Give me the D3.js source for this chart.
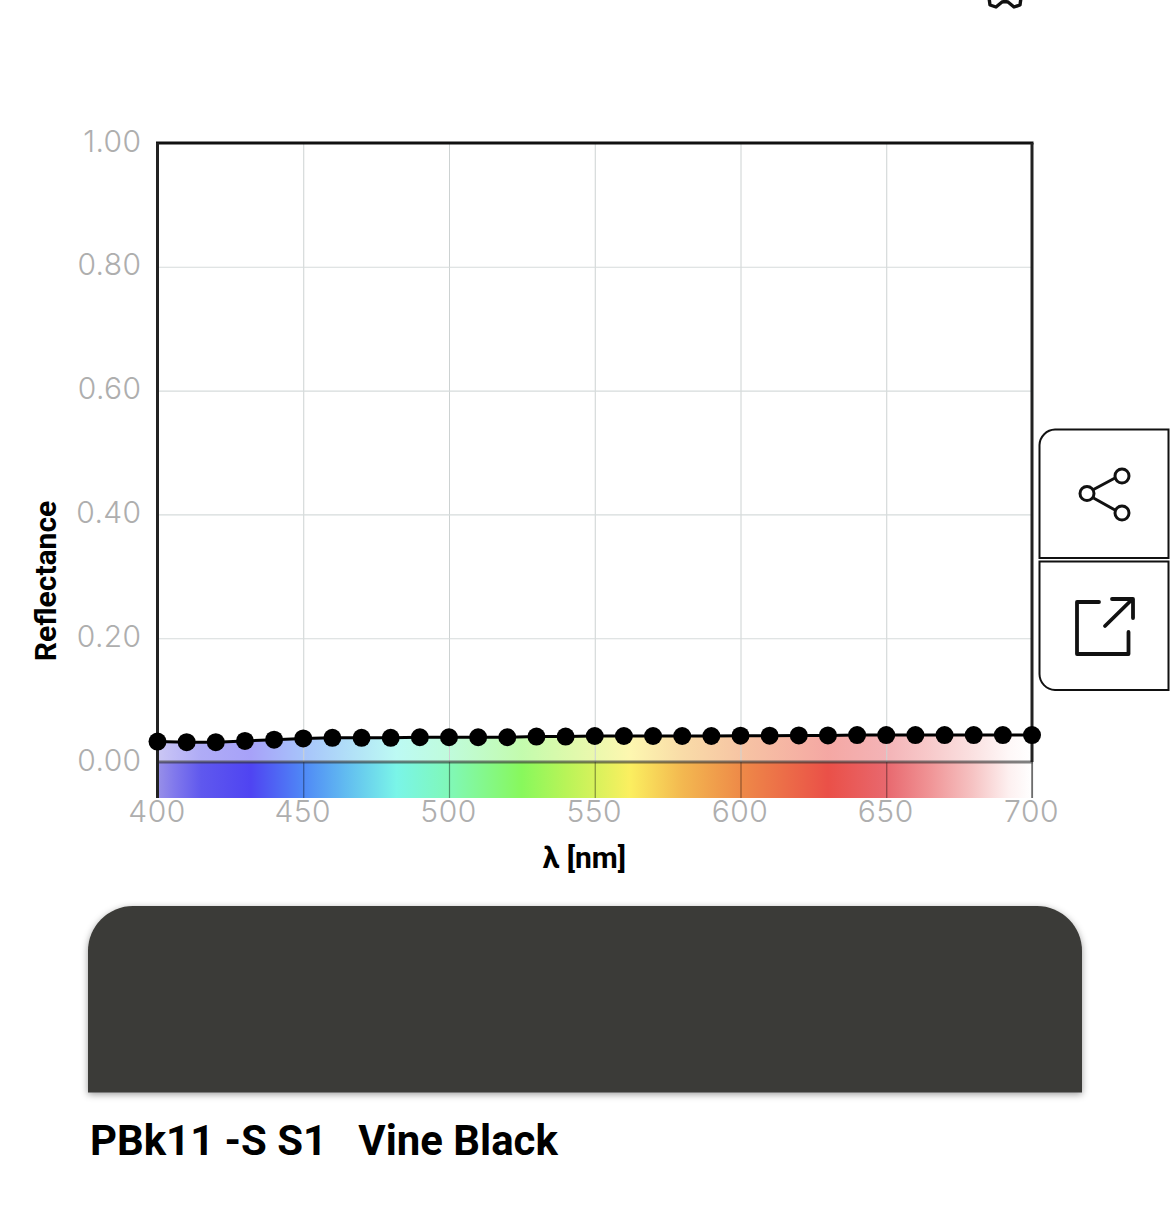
<!DOCTYPE html>
<html>
<head>
<meta charset="utf-8">
<script src="https://cdn.jsdelivr.net/npm/d3@7"></script>
<style>
html,body{margin:0;padding:0;background:#fff;overflow:hidden}
svg{display:block}
</style>
</head>
<body>
<div id="chart"></div>
<script>
const wavelengths = d3.range(400, 701, 10);
const reflectance = [0.033,0.032,0.032,0.034,0.036,0.038,0.039,0.039,0.039,0.040,0.040,0.040,0.040,0.041,0.041,0.042,0.042,0.042,0.042,0.042,0.0425,0.0425,0.043,0.043,0.0435,0.0436,0.0436,0.0436,0.0436,0.0436,0.0436];
const xTicks = [400,450,500,550,600,650,700];
const yTicks = [0,0.2,0.4,0.6,0.8,1];
const spectrumNm = [400,406,415,432,450,465,482,500,525,540,562,580,600,630,650,665,680,692,700];
const spectrumColors = ["#9890e8","#8078ec","#5f58ee","#4f44f2","#4f88f6","#62bdf0","#7af5e8","#80f8b8","#88f85c","#b8f458","#fbef60","#f3b850","#ee8a48","#ea5048","#e8686e","#f09496","#f6c4c4","#fdf0f0","#ffffff"];
const yTitle = "Reflectance";
const xTitle = "λ [nm]";
const swatchColor = "#3b3a37";
const sampleName = "PBk11 -S S1   Vine Black";

const W = 1170, H = 1230;
const x = d3.scaleLinear().domain([400,700]).range([157.5,1032]);
const y = d3.scaleLinear().domain([0,1]).range([762,143]);
const bandBottom = 798;

const svg = d3.select("#chart").append("svg").attr("width",W).attr("height",H);
const defs = svg.append("defs");

const grad = defs.append("linearGradient").attr("id","spec")
  .attr("gradientUnits","userSpaceOnUse")
  .attr("x1",x(400)).attr("x2",x(700)).attr("y1",0).attr("y2",0);
spectrumNm.forEach((n,i)=>grad.append("stop")
  .attr("offset",(n-400)/300).attr("stop-color",spectrumColors[i]));

const shadow = defs.append("filter").attr("id","sh")
  .attr("x","-5%").attr("y","-10%").attr("width","110%").attr("height","125%");
shadow.append("feDropShadow").attr("dx",0).attr("dy",2).attr("stdDeviation",3.5)
  .attr("flood-color","#000").attr("flood-opacity",0.38);

// top partial icon
svg.append("path")
  .attr("d","M988.5,-6 L990,5 L996,7 L1002,2 L1005,1.5 L1008,2 L1014,7 L1020,5 L1021.5,-6")
  .attr("fill","none").attr("stroke","#111").attr("stroke-width",3.4).attr("stroke-linejoin","round");

// spectrum band
svg.append("rect").attr("x",x(400)).attr("y",y(0)).attr("width",x(700)-x(400))
  .attr("height",bandBottom-y(0)).attr("fill","url(#spec)");

// area under curve
const area = d3.area().x((d,i)=>x(wavelengths[i])).y0(y(0)).y1(d=>y(d));
svg.append("path").datum(reflectance).attr("d",area).attr("fill","url(#spec)").attr("opacity",0.5);

// grid
const gridX = svg.append("g").attr("transform",`translate(0,${y(0)})`)
  .call(d3.axisBottom(x).tickValues(xTicks).tickSize(y(1)-y(0)).tickFormat(""));
gridX.select(".domain").remove();
gridX.selectAll("line").attr("stroke","#cdd2d2").attr("stroke-width",1);

const gridY = svg.append("g").attr("transform",`translate(${x(400)},0)`)
  .call(d3.axisRight(y).tickValues(yTicks.filter(v=>v>0&&v<1)).tickSize(x(700)-x(400)).tickFormat(""));
gridY.select(".domain").remove();
gridY.selectAll("line").attr("stroke","#d6dbdb").attr("stroke-width",1.1);

// tick marks through the band
const bandTicks = svg.append("g").attr("transform",`translate(0,${y(0)})`)
  .call(d3.axisBottom(x).tickValues(xTicks).tickSize(bandBottom-y(0)).tickFormat(""));
bandTicks.select(".domain").remove();
bandTicks.selectAll("line").attr("stroke","rgba(0,0,0,0.4)").attr("stroke-width",1.2);

// frame
const frame = svg.append("g").attr("fill","none");
frame.append("line").attr("x1",x(400)).attr("x2",x(700)+1).attr("y1",y(0)).attr("y2",y(0))
  .attr("stroke","rgba(50,50,50,0.62)").attr("stroke-width",3);
frame.append("line").attr("x1",x(400)-1.5).attr("x2",x(700)+1.5).attr("y1",y(1)).attr("y2",y(1))
  .attr("stroke","#111").attr("stroke-width",3);
frame.append("line").attr("x1",x(400)).attr("x2",x(400)).attr("y1",y(1)).attr("y2",bandBottom)
  .attr("stroke","#222").attr("stroke-width",3);
frame.append("line").attr("x1",x(700)).attr("x2",x(700)).attr("y1",y(1)).attr("y2",y(0))
  .attr("stroke","#222").attr("stroke-width",3);
frame.append("line").attr("x1",x(700)).attr("x2",x(700)).attr("y1",y(0)).attr("y2",bandBottom)
  .attr("stroke","#555").attr("stroke-width",1.3);

// tick labels
const tickFont = "Inter, 'Liberation Sans', sans-serif";
const xLab = svg.append("g").attr("transform",`translate(-1,${bandBottom})`)
  .call(d3.axisBottom(x).tickValues(xTicks).tickSize(0).tickPadding(0).tickFormat(d3.format("d")));
xLab.select(".domain").remove();
xLab.selectAll("text").attr("y",24).attr("dy",0).attr("fill","#aeaeae").attr("letter-spacing",0.5)
  .attr("font-family",tickFont).attr("font-size",30).attr("font-weight",300);

const yLab = svg.append("g").attr("transform",`translate(${x(400)},0)`)
  .call(d3.axisLeft(y).tickValues(yTicks).tickSize(0).tickPadding(0).tickFormat(d3.format(".2f")));
yLab.select(".domain").remove();
yLab.selectAll("text").attr("x",-16).attr("dy",0).attr("y",8).attr("fill","#aeaeae").attr("letter-spacing",0.4)
  .attr("font-family",tickFont).attr("font-size",30).attr("font-weight",300);

// line + points
const line = d3.line().x((d,i)=>x(wavelengths[i])).y(d=>y(d));
svg.append("path").datum(reflectance).attr("d",line).attr("fill","none")
  .attr("stroke","#000").attr("stroke-width",3);
svg.append("g").selectAll("circle").data(reflectance).join("circle")
  .attr("cx",(d,i)=>x(wavelengths[i])).attr("cy",d=>y(d)).attr("r",9).attr("fill","#000");

// axis titles
svg.append("text").attr("transform","translate(56,581) rotate(-90)").attr("text-anchor","middle")
  .attr("font-family","Roboto, sans-serif").attr("font-weight",700).attr("font-size",30).attr("fill","#000").text(yTitle);
svg.append("text").attr("x",584.5).attr("y",868).attr("text-anchor","middle")
  .attr("font-family","Roboto, sans-serif").attr("font-weight",700).attr("font-size",30).attr("fill","#000").text(xTitle);

// side buttons
const btn = svg.append("g").attr("fill","#fff").attr("stroke","#111").attr("stroke-width",2);
btn.append("path").attr("d","M1168.5,429.5 H1055 A16,16 0 0 0 1039.5,445 V558 H1168.5 Z");
btn.append("path").attr("d","M1168.5,561.5 H1039.5 V674 A16,16 0 0 0 1055,690 H1168.5 Z");

const share = svg.append("g").attr("fill","none").attr("stroke","#111").attr("stroke-width",3);
share.append("path").attr("d","M1093.5,489.5 L1115,478 M1093.5,498 L1115,510");
share.append("circle").attr("cx",1087).attr("cy",493.5).attr("r",7);
share.append("circle").attr("cx",1122).attr("cy",476).attr("r",7);
share.append("circle").attr("cx",1122).attr("cy",513).attr("r",7);

svg.append("path")
  .attr("d","M1099,602 H1077 V654 H1128.5 V632 M1105,626 L1132,599.5 M1112,599 H1133 V618")
  .attr("fill","none").attr("stroke","#111").attr("stroke-width",3.8)
  .attr("stroke-linecap","round").attr("stroke-linejoin","round");

// swatch
svg.append("path").attr("d","M88,1092.5 V951 A45,45 0 0 1 133,906 H1037 A45,45 0 0 1 1082,951 V1092.5 Z")
  .attr("fill",swatchColor).attr("filter","url(#sh)");

// name
svg.append("text").attr("x",90).attr("y",1155).style("white-space","pre")
  .attr("font-family","Roboto, sans-serif").attr("font-weight",700).attr("font-size",41.9).attr("fill","#000").text(sampleName);
</script>
</body>
</html>
